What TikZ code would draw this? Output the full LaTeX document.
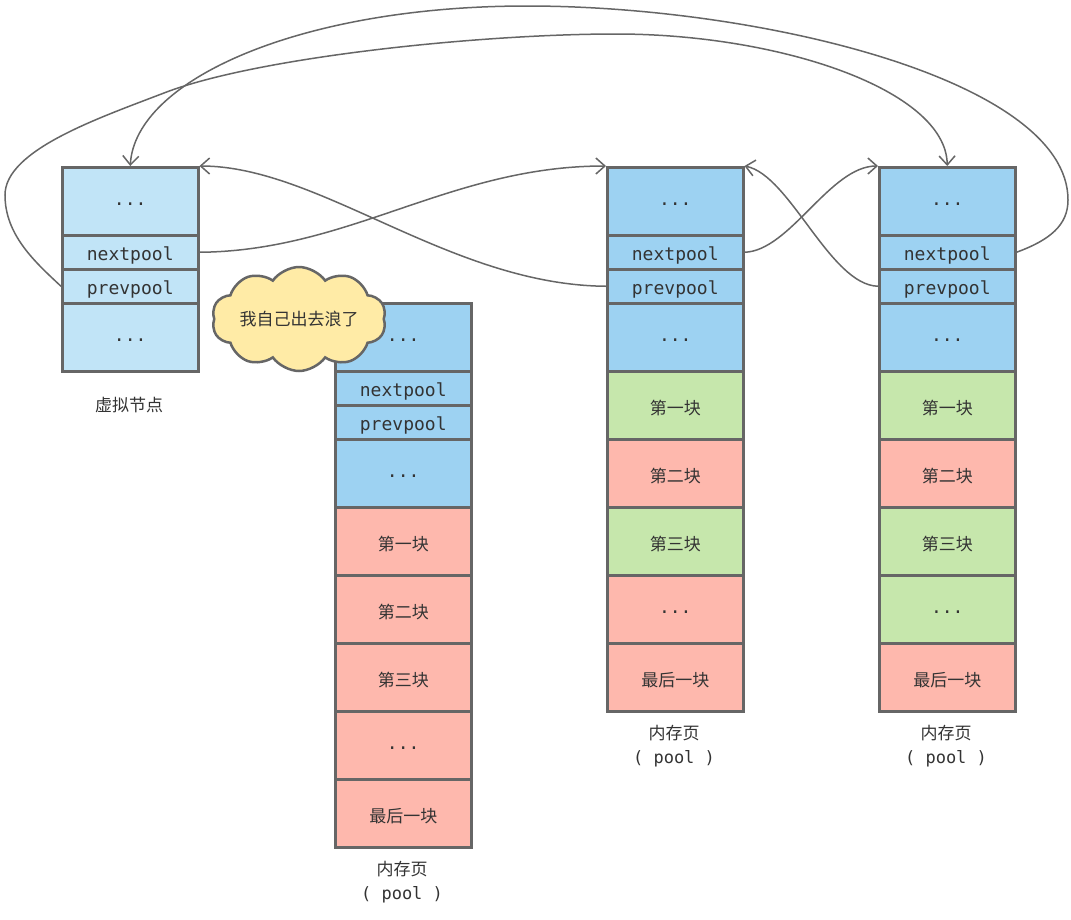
\documentclass[tikz,border=0pt]{standalone}
\usepackage{fontspec}
\setmainfont{Noto Sans CJK SC}
\newfontfamily\cjk{Noto Sans CJK SC}
\newfontfamily\mono{DejaVu Sans Mono}
\usetikzlibrary{arrows.meta,shapes.symbols}
\definecolor{linec}{HTML}{666666}
\definecolor{txt}{HTML}{333333}
\definecolor{vblue}{HTML}{C1E4F7}
\definecolor{pblue}{HTML}{9DD2F2}
\definecolor{pgreen}{HTML}{C6E7AC}
\definecolor{pred}{HTML}{FEB8AD}
\definecolor{cloudc}{HTML}{FFEBA6}
\newcommand\dn[1]{\vphantom{#1}\raisebox{-3pt}[0pt][0pt]{#1}}
\tikzset{
  cell/.style={draw=linec, line width=2.5pt, minimum width=136pt, inner sep=0pt, anchor=north west, text=txt, font=\fontsize{17}{20}\selectfont\cjk},
  tall/.style={cell, minimum height=68pt},
  short/.style={cell, minimum height=34pt},
  mt/.style={font=\fontsize{18}{20}\selectfont\mono},
  lbl/.style={text=txt, align=center, font=\fontsize{17}{24}\selectfont\cjk},
  conn/.style={draw=linec, line width=1.5pt, -{Straight Barb[length=9pt,width=16pt]}}
}
\begin{document}
\begin{tikzpicture}[x=1pt,y=-1pt]
\useasboundingbox[fill=white] (0,0) rectangle (1071,919);
% virtual node
\node[tall, fill=vblue, mt] (vtop) at (61,166) {\dn{...}};
\node[short, fill=vblue, mt] (vnext) at (61,234) {\dn{nextpool}};
\node[short, fill=vblue, mt] (vprev) at (61,268) {\dn{prevpool}};
\node[tall, fill=vblue, mt] (vbot) at (61,302) {\dn{...}};
\node[lbl] (vlbl) at (129,405) {虚拟节点};
% pool 1
\node[tall, fill=pblue, mt] (a1) at (334,302) {\dn{...}};
\node[short, fill=pblue, mt] (a2) at (334,370) {\dn{nextpool}};
\node[short, fill=pblue, mt] (a3) at (334,404) {\dn{prevpool}};
\node[tall, fill=pblue, mt] (a4) at (334,438) {\dn{...}};
\node[tall, fill=pred] (a5) at (334,506) {\dn{第一块}};
\node[tall, fill=pred] (a6) at (334,574) {\dn{第二块}};
\node[tall, fill=pred] (a7) at (334,642) {\dn{第三块}};
\node[tall, fill=pred, mt] (a8) at (334,710) {\dn{...}};
\node[tall, fill=pred] (a9) at (334,778) {\dn{最后一块}};
\node[lbl] (albl) at (402,882) {内存页\\{\mono ( pool )}};
% pool 2
\node[tall, fill=pblue, mt] (b1) at (606,166) {\dn{...}};
\node[short, fill=pblue, mt] (b2) at (606,234) {\dn{nextpool}};
\node[short, fill=pblue, mt] (b3) at (606,268) {\dn{prevpool}};
\node[tall, fill=pblue, mt] (b4) at (606,302) {\dn{...}};
\node[tall, fill=pgreen] (b5) at (606,370) {\dn{第一块}};
\node[tall, fill=pred] (b6) at (606,438) {\dn{第二块}};
\node[tall, fill=pgreen] (b7) at (606,506) {\dn{第三块}};
\node[tall, fill=pred, mt] (b8) at (606,574) {\dn{...}};
\node[tall, fill=pred] (b9) at (606,642) {\dn{最后一块}};
\node[lbl] (blbl) at (674,746) {内存页\\{\mono ( pool )}};
% pool 3
\node[tall, fill=pblue, mt] (c1) at (878,166) {\dn{...}};
\node[short, fill=pblue, mt] (c2) at (878,234) {\dn{nextpool}};
\node[short, fill=pblue, mt] (c3) at (878,268) {\dn{prevpool}};
\node[tall, fill=pblue, mt] (c4) at (878,302) {\dn{...}};
\node[tall, fill=pgreen] (c5) at (878,370) {\dn{第一块}};
\node[tall, fill=pred] (c6) at (878,438) {\dn{第二块}};
\node[tall, fill=pgreen] (c7) at (878,506) {\dn{第三块}};
\node[tall, fill=pgreen, mt] (c8) at (878,574) {\dn{...}};
\node[tall, fill=pred] (c9) at (878,642) {\dn{最后一块}};
\node[lbl] (clbl) at (946,746) {内存页\\{\mono ( pool )}};
% cloud
\node[cloud, cloud puffs=10, cloud puff arc=110, cloud ignores aspect, draw=linec, line width=2.5pt, fill=cloudc, minimum width=172pt, minimum height=104pt, text=txt, font=\fontsize{17}{20}\selectfont\cjk] (cloud) at (299,319) {我自己出去浪了};
% connectors
\draw[conn] (vnext.east) .. controls (350,251) and (450,166) .. (b1.north west);
\draw[conn] (b3.west) .. controls (450,285) and (320,166) .. (vtop.north east);
\draw[conn] (b2.east) .. controls (790,251) and (830,166) .. (c1.north west);
\draw[conn] (c3.west) .. controls (830,285) and (790,175) .. (b1.north east);
\draw[conn] (c2.east) .. controls (1050,240) and (1068,225) .. (1068,200)
  .. controls (1068,80) and (760,6) .. (527,6)
  .. controls (300,6) and (135,80) .. (vtop.north);
\draw[conn] (vprev.west) .. controls (35,262) and (5,235) .. (5,195)
  .. controls (5,150) and (99,118) .. (164,93)
  .. controls (257,57) and (480,34) .. (616,34)
  .. controls (780,34) and (946,90) .. (c1.north);
\end{tikzpicture}
\end{document}
